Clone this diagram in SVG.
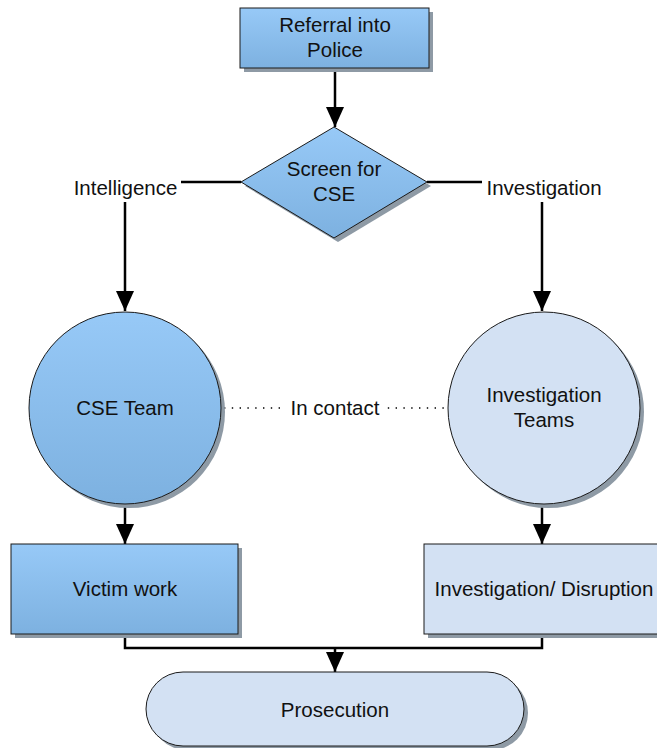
<svg xmlns="http://www.w3.org/2000/svg" width="657" height="748" viewBox="0 0 657 748">
<defs>
<linearGradient id="blue" x1="0" y1="0" x2="0" y2="1">
<stop offset="0" stop-color="#97c9f7"/>
<stop offset="1" stop-color="#7db1e0"/>
</linearGradient>
<marker id="arr" viewBox="0 0 20 18" refX="20" refY="9" markerWidth="20" markerHeight="18" markerUnits="userSpaceOnUse" orient="auto">
<path d="M0,0 L20,9 L0,18 Z" fill="#000"/>
</marker>
<style>
.shadow{fill:#8e9aa5;}
.dark{fill:url(#blue);stroke:#1a1a1a;stroke-width:1;}
.light{fill:#d3e1f3;stroke:#1a1a1a;stroke-width:1;}
.t{font-family:"Liberation Sans",Arial,sans-serif;font-size:20.5px;fill:#111;text-anchor:middle;}
.c{fill:none;stroke:#000;stroke-width:2.5;}
.dot{fill:none;stroke:#000;stroke-width:1.4;stroke-dasharray:1.4 6.4;}
</style>
</defs>

<g id="connectors">
<path class="c" d="M335,69 L335,127" marker-end="url(#arr)"/>
<path class="c" d="M241,182 L125,182 L125,311" marker-end="url(#arr)"/>
<path class="c" d="M427,182 L542,182 L542,311" marker-end="url(#arr)"/>
<path class="c" d="M125,504 L125,544" marker-end="url(#arr)"/>
<path class="c" d="M542,504 L542,544" marker-end="url(#arr)"/>
<path class="c" d="M125,634 L125,648 L542,648 L542,634"/>
<path class="c" d="M335,648 L335,672" marker-end="url(#arr)"/>
<path class="dot" d="M224,408 L448,408"/>
<rect x="70" y="174" width="111" height="28" fill="#fff"/>
<text class="t" x="125.5" y="195">Intelligence</text>
<rect x="482" y="174" width="124" height="28" fill="#fff"/>
<text class="t" x="544" y="195">Investigation</text>
<rect x="286" y="396" width="98" height="26" fill="#fff"/>
<text class="t" x="335" y="415">In contact</text>
</g>

<g id="referral">
<rect class="shadow" x="244" y="12" width="189" height="60"/>
<rect class="dark" x="240" y="8" width="189" height="60"/>
<text class="t" x="335" y="32">Referral into</text>
<text class="t" x="335" y="57">Police</text>
</g>

<g id="screen">
<polygon class="shadow" points="338,131 431,186 338,242 245,186"/>
<polygon class="dark" points="334,127 427,182 334,238 241,182"/>
<text class="t" x="334" y="176">Screen for</text>
<text class="t" x="334" y="201">CSE</text>
</g>

<g id="cse-team">
<ellipse class="shadow" cx="129" cy="412" rx="96" ry="96"/>
<ellipse class="dark" cx="125" cy="408" rx="96" ry="96"/>
<text class="t" x="125" y="415">CSE Team</text>
</g>

<g id="investigation-teams">
<ellipse class="shadow" cx="548" cy="412" rx="96" ry="96"/>
<ellipse class="light" cx="544" cy="408" rx="96" ry="96"/>
<text class="t" x="544" y="402">Investigation</text>
<text class="t" x="544" y="427">Teams</text>
</g>

<g id="victim-work">
<rect class="shadow" x="15" y="548" width="227" height="90"/>
<rect class="dark" x="11" y="544" width="227" height="90"/>
<text class="t" x="125" y="596">Victim work</text>
</g>

<g id="investigation-disruption">
<rect class="shadow" x="428" y="548" width="240" height="90"/>
<rect class="light" x="424" y="544" width="240" height="90"/>
<text class="t" x="544" y="596">Investigation/ Disruption</text>
</g>

<g id="prosecution">
<rect class="shadow" x="150" y="676" width="378" height="74" rx="37" ry="37"/>
<rect class="light" x="146" y="672" width="378" height="74" rx="37" ry="37"/>
<text class="t" x="335" y="717">Prosecution</text>
</g>
</svg>
